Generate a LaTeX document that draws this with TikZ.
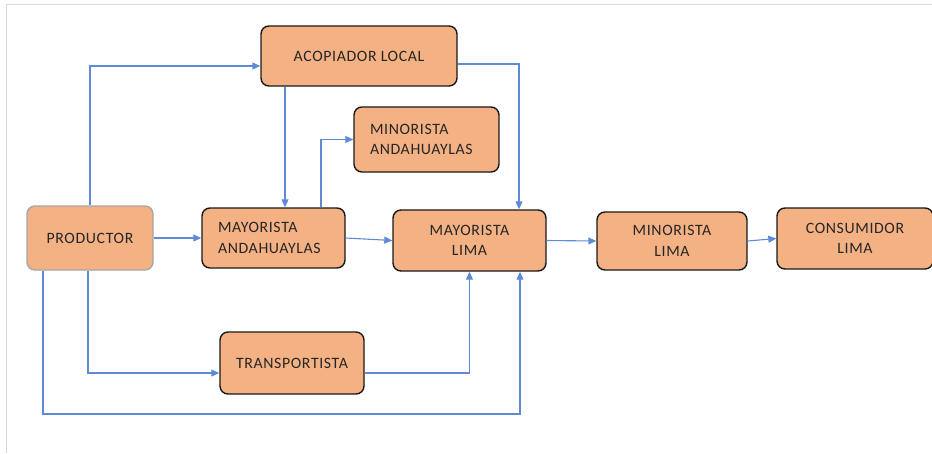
\documentclass[tikz,border=0pt]{standalone}
\usepackage{fontspec}
\setmainfont{Carlito}
\usetikzlibrary{arrows.meta}
\definecolor{boxfill}{HTML}{F4B183}
\definecolor{lineblue}{HTML}{5F8AD6}
\definecolor{frame}{HTML}{D9D9D9}
\definecolor{prodedge}{HTML}{A6A6A6}
\definecolor{txt}{HTML}{262626}
\tikzset{
  box/.style={draw=black!90, line width=1.4pt, fill=boxfill, rounded corners=8pt,
    inner sep=0pt, text=txt, font=\fontsize{15.8}{20.5}\selectfont\addfontfeature{LetterSpace=4}},
  lbox/.style={box, align=left, inner xsep=16pt},
  cbox/.style={box, align=center},
  conn/.style={draw=lineblue, line width=1.1pt, -{Triangle[length=8pt,width=7pt]}},
  plain/.style={draw=lineblue, line width=1.1pt}
}
\begin{document}
\begin{tikzpicture}[x=1pt,y=-1pt]
\useasboundingbox (0,0) rectangle (932,453);
\draw[frame, line width=1.5pt] (6.5,453) -- (6.5,4.5) -- (932,4.5);

\node[cbox, minimum width=196, minimum height=60] (aco) at (359,56) {ACOPIADOR LOCAL};
\node[lbox, text width=113, minimum height=65] (minA) at (426.5,139.5) {MINORISTA\\ANDAHUAYLAS};
\node[cbox, draw=prodedge, minimum width=126, minimum height=64] (prod) at (90,238) {PRODUCTOR};
\node[lbox, text width=111, minimum height=60] (mayA) at (273.5,238) {MAYORISTA\\ANDAHUAYLAS};
\node[cbox, minimum width=153, minimum height=61] (mayL) at (469.5,240.5) {MAYORISTA\\LIMA};
\node[cbox, minimum width=150, minimum height=58] (minL) at (672,241) {MINORISTA\\LIMA};
\node[cbox, minimum width=156, minimum height=61] (cons) at (855,238.5) {CONSUMIDOR\\LIMA};
\node[cbox, minimum width=144, minimum height=62] (trans) at (292,363) {TRANSPORTISTA};

\coordinate (lowL) at (43,414);

\draw[conn] (prod.north) |- ([yshift=-10pt]aco.west);
\draw[conn] (prod.east) -- (mayA.west);
\draw[conn] (aco.south -| 285,0) -- (mayA.north -| 285,0);
\draw[conn] (mayA.north -| 321,0) |- (minA.west);
\draw[conn] ([yshift=-8pt]aco.east) -| (mayL.north -| 519,0);
\draw[conn] (mayA.east) -- (mayL.west);
\draw[conn] (mayL.east) -- (minL.west);
\draw[conn] (minL.east) -- (cons.west);
\draw[conn] (prod.south -| 88,0) |- ([yshift=-10pt]trans.west);
\draw[conn] ([yshift=-10pt]trans.east) -| (mayL.south);
\draw[conn] (prod.south -| 43,0) -- (lowL) -| (mayL.south -| 520,0);
\end{tikzpicture}
\end{document}
